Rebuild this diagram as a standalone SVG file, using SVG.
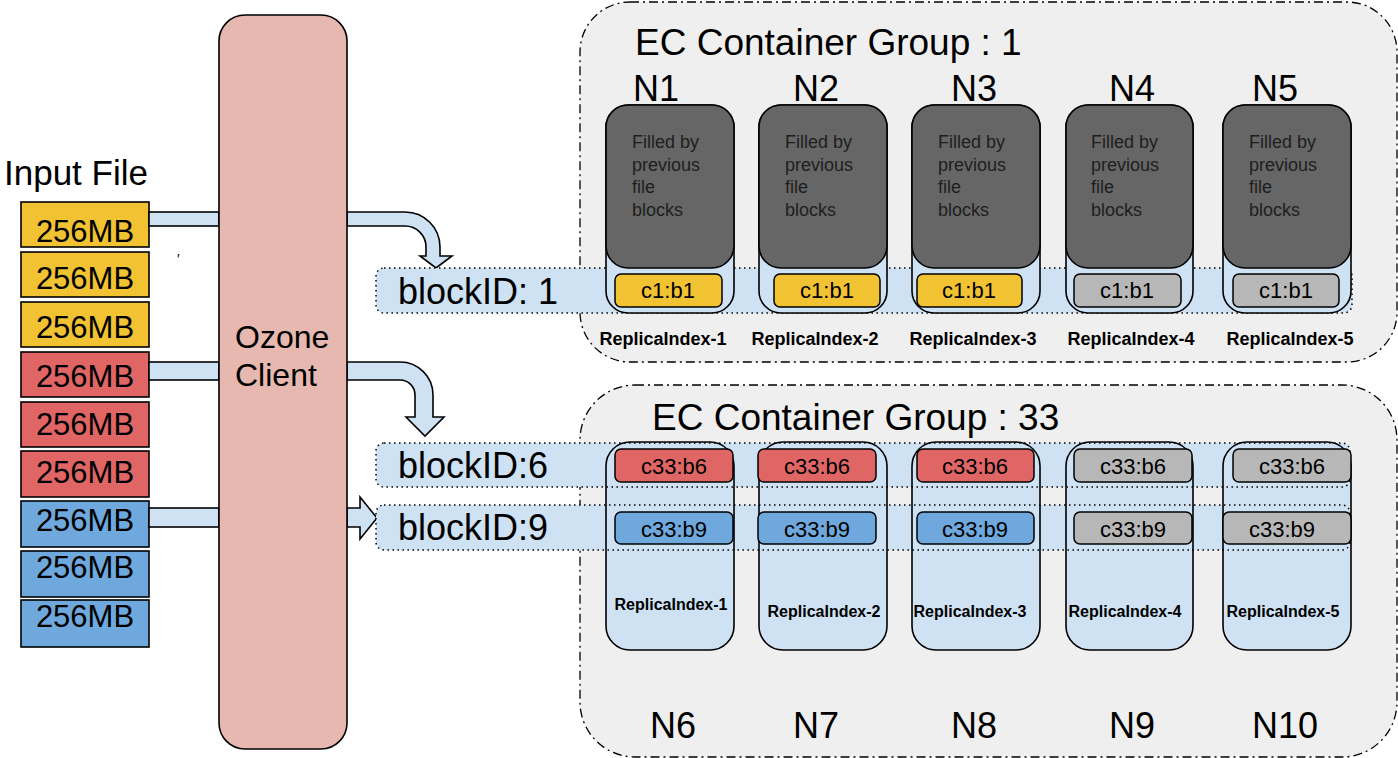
<svg xmlns="http://www.w3.org/2000/svg" width="1398" height="758" viewBox="0 0 1398 758">
<style>
text{font-family:"Liberation Sans",Arial,sans-serif;fill:#000}
.grp{fill:#efefef;stroke:#000;stroke-width:1.3;stroke-dasharray:9,4,2,4}
.band{fill:#cfe2f3;stroke:#000;stroke-width:1.5;stroke-dasharray:1.5,3.5}
.bandfill{fill:#cfe2f3;stroke:none}
.bandline{fill:none;stroke:#000;stroke-width:1.5;stroke-dasharray:1.5,3.5}
.node{fill:#cfe2f3;stroke:#000;stroke-width:1.6}
.dark{fill:#666666;stroke:#000;stroke-width:1.6}
.chip{stroke:#000;stroke-width:1.5}
.y{fill:#f1c232}.r{fill:#e06666}.b{fill:#6fa8dc}.g{fill:#b7b7b7}
.mb{stroke:#000;stroke-width:1.6}
.arrow{fill:#cfe2f3;stroke:#000;stroke-width:1.6}
.big{font-size:36px}
.title{font-size:37px}
.mbt{font-size:31px;text-anchor:middle}
.chipt{font-size:22px;text-anchor:middle}
.fill{font-size:18px;fill:#1e1e1e}
.ri{font-size:18px;font-weight:bold;text-anchor:middle}
.ri2{font-size:16px;font-weight:bold;text-anchor:middle}
</style>

<!-- Container groups -->
<g id="group1">
<rect class="grp" x="580" y="2" width="817" height="360" rx="50"/>
<text class="title" x="635" y="55">EC Container Group : 1</text>
</g>
<g id="group33">
<rect class="grp" x="580" y="385" width="817" height="372" rx="55"/>
<text class="title" x="652" y="430">EC Container Group : 33</text>
</g>

<!-- Input file -->
<g id="input-file">
<text x="4" y="185" style="font-size:35px">Input File</text>
<rect class="mb y" x="21" y="202" width="128" height="45"/>
<text class="mbt" x="85" y="242">256MB</text>
<rect class="mb y" x="21" y="252" width="128" height="45"/>
<text class="mbt" x="85" y="289">256MB</text>
<rect class="mb y" x="21" y="302" width="128" height="45"/>
<text class="mbt" x="85" y="338">256MB</text>
<rect class="mb r" x="21" y="352" width="128" height="45"/>
<text class="mbt" x="85" y="387">256MB</text>
<rect class="mb r" x="21" y="402" width="128" height="45"/>
<text class="mbt" x="85" y="435">256MB</text>
<rect class="mb r" x="21" y="451" width="128" height="46"/>
<text class="mbt" x="85" y="483">256MB</text>
<rect class="mb b" x="21" y="501" width="128" height="46"/>
<text class="mbt" x="85" y="531">256MB</text>
<rect class="mb b" x="21" y="551" width="128" height="46"/>
<text class="mbt" x="85" y="578">256MB</text>
<rect class="mb b" x="21" y="600" width="128" height="47"/>
<text class="mbt" x="85" y="627">256MB</text>
<text x="177" y="264" style="font-size:14px">′</text>
</g>

<!-- Connectors -->
<g id="connectors">
<rect class="arrow" x="149" y="212" width="70" height="14"/>
<rect class="arrow" x="149" y="362" width="70" height="18"/>
<rect class="arrow" x="149" y="508" width="70" height="19"/>
<path class="arrow" d="M347,212 H405 A35,35 0 0 1 440,247 V256 H452 L436,268 L420,256 H426 V247 A21,21 0 0 0 405,226 H347 Z"/>
<path class="arrow" d="M347,362 H400 A33,33 0 0 1 433,395 V417 H444 L425,436 L406,417 H415 V395 A15,15 0 0 0 400,380 H347 Z"/>
<path class="arrow" d="M347,508 H360 V497 L377,518 L360,539 V527 H347 Z"/>
</g>

<!-- Ozone client -->
<g id="ozone-client">
<rect x="219" y="15" width="128" height="734" rx="26" fill="#e6b8af" stroke="#000" stroke-width="1.6"/>
<text x="235" y="348" style="font-size:32px">Ozone</text>
<text x="235" y="386" style="font-size:32px">Client</text>
</g>

<!-- Block bands -->
<g id="band-block1">
<rect class="band" x="376" y="268" width="976" height="45" rx="8"/>
<text class="big" x="398" y="304">blockID: 1</text>
</g>
<g id="band-block6">
<rect class="bandfill" x="376" y="443" width="974" height="44" rx="8"/>
<text class="big" x="398" y="478">blockID:6</text>
</g>
<g id="band-block9">
<rect class="bandfill" x="376" y="505" width="974" height="45" rx="8"/>
<text class="big" x="398" y="540">blockID:9</text>
</g>

<!-- Group 1 nodes -->
<g id="N1">
<text class="big" x="633" y="101">N1</text>
<rect class="node" x="606" y="105" width="128" height="208" rx="22"/>
<rect class="dark" x="606" y="105" width="128" height="163" rx="22"/>
<text class="fill" x="632" y="148">Filled by</text><text class="fill" x="632" y="171">previous</text><text class="fill" x="632" y="193">file</text><text class="fill" x="632" y="216">blocks</text>
<rect class="chip y" x="615" y="274" width="107" height="33" rx="6"/>
<text class="chipt" x="668" y="298">c1:b1</text>
<text class="ri" x="663" y="345">ReplicaIndex-1</text>
</g>
<g id="N2">
<text class="big" x="793" y="101">N2</text>
<rect class="node" x="759" y="105" width="128" height="208" rx="22"/>
<rect class="dark" x="759" y="105" width="128" height="163" rx="22"/>
<text class="fill" x="785" y="148">Filled by</text><text class="fill" x="785" y="171">previous</text><text class="fill" x="785" y="193">file</text><text class="fill" x="785" y="216">blocks</text>
<rect class="chip y" x="774" y="274" width="106" height="33" rx="6"/>
<text class="chipt" x="827" y="298">c1:b1</text>
<text class="ri" x="815" y="345">ReplicaIndex-2</text>
</g>
<g id="N3">
<text class="big" x="951" y="101">N3</text>
<rect class="node" x="912" y="105" width="128" height="208" rx="22"/>
<rect class="dark" x="912" y="105" width="128" height="163" rx="22"/>
<text class="fill" x="938" y="148">Filled by</text><text class="fill" x="938" y="171">previous</text><text class="fill" x="938" y="193">file</text><text class="fill" x="938" y="216">blocks</text>
<rect class="chip y" x="917" y="274" width="105" height="33" rx="6"/>
<text class="chipt" x="969" y="298">c1:b1</text>
<text class="ri" x="973" y="345">ReplicaIndex-3</text>
</g>
<g id="N4">
<text class="big" x="1109" y="101">N4</text>
<rect class="node" x="1066" y="105" width="127" height="208" rx="22"/>
<rect class="dark" x="1066" y="105" width="127" height="163" rx="22"/>
<text class="fill" x="1091" y="148">Filled by</text><text class="fill" x="1091" y="171">previous</text><text class="fill" x="1091" y="193">file</text><text class="fill" x="1091" y="216">blocks</text>
<rect class="chip g" x="1074" y="274" width="107" height="33" rx="6"/>
<text class="chipt" x="1127" y="298">c1:b1</text>
<text class="ri" x="1131" y="345">ReplicaIndex-4</text>
</g>
<g id="N5">
<text class="big" x="1252" y="101">N5</text>
<rect class="node" x="1223" y="105" width="128" height="208" rx="22"/>
<rect class="dark" x="1223" y="105" width="128" height="163" rx="22"/>
<text class="fill" x="1249" y="148">Filled by</text><text class="fill" x="1249" y="171">previous</text><text class="fill" x="1249" y="193">file</text><text class="fill" x="1249" y="216">blocks</text>
<rect class="chip g" x="1233" y="274" width="106" height="33" rx="6"/>
<text class="chipt" x="1286" y="298">c1:b1</text>
<text class="ri" x="1290" y="345">ReplicaIndex-5</text>
</g>

<!-- Group 33 nodes -->
<g id="N6">
<rect class="node" x="606" y="442" width="128" height="208" rx="24"/>
<text class="ri2" x="671" y="610">ReplicaIndex-1</text>
<text class="big" x="650" y="738">N6</text>
</g>
<g id="N7">
<rect class="node" x="759" y="442" width="128" height="208" rx="24"/>
<text class="ri2" x="824" y="617">ReplicaIndex-2</text>
<text class="big" x="793" y="738">N7</text>
</g>
<g id="N8">
<rect class="node" x="912" y="442" width="128" height="208" rx="24"/>
<text class="ri2" x="970" y="617">ReplicaIndex-3</text>
<text class="big" x="951" y="738">N8</text>
</g>
<g id="N9">
<rect class="node" x="1066" y="442" width="127" height="208" rx="24"/>
<text class="ri2" x="1125" y="617">ReplicaIndex-4</text>
<text class="big" x="1109" y="738">N9</text>
</g>
<g id="N10">
<rect class="node" x="1223" y="442" width="128" height="208" rx="24"/>
<text class="ri2" x="1283" y="617">ReplicaIndex-5</text>
<text class="big" x="1252" y="738">N10</text>
</g>

<!-- band outlines over group 33 nodes -->
<g id="band-outlines">
<rect class="bandline" x="376" y="443" width="974" height="44" rx="8"/>
<rect class="bandline" x="376" y="505" width="974" height="45" rx="8"/>
</g>

<!-- chips of group 33 -->
<g id="chips-b6">
<rect class="chip r" x="615" y="449" width="118" height="33" rx="6"/><text class="chipt" x="674" y="474">c33:b6</text>
<rect class="chip r" x="758" y="449" width="118" height="33" rx="6"/><text class="chipt" x="817" y="474">c33:b6</text>
<rect class="chip r" x="917" y="449" width="117" height="33" rx="6"/><text class="chipt" x="975" y="474">c33:b6</text>
<rect class="chip g" x="1074" y="449" width="118" height="33" rx="6"/><text class="chipt" x="1133" y="474">c33:b6</text>
<rect class="chip g" x="1233" y="449" width="118" height="33" rx="6"/><text class="chipt" x="1292" y="474">c33:b6</text>
</g>
<g id="chips-b9">
<rect class="chip b" x="615" y="512" width="118" height="32" rx="6"/><text class="chipt" x="674" y="537">c33:b9</text>
<rect class="chip b" x="758" y="512" width="118" height="32" rx="6"/><text class="chipt" x="817" y="537">c33:b9</text>
<rect class="chip b" x="917" y="512" width="117" height="32" rx="6"/><text class="chipt" x="975" y="537">c33:b9</text>
<rect class="chip g" x="1074" y="512" width="118" height="32" rx="6"/><text class="chipt" x="1133" y="537">c33:b9</text>
<rect class="chip g" x="1223" y="512" width="128" height="32" rx="6"/><text class="chipt" x="1282" y="537">c33:b9</text>
</g>
</svg>
